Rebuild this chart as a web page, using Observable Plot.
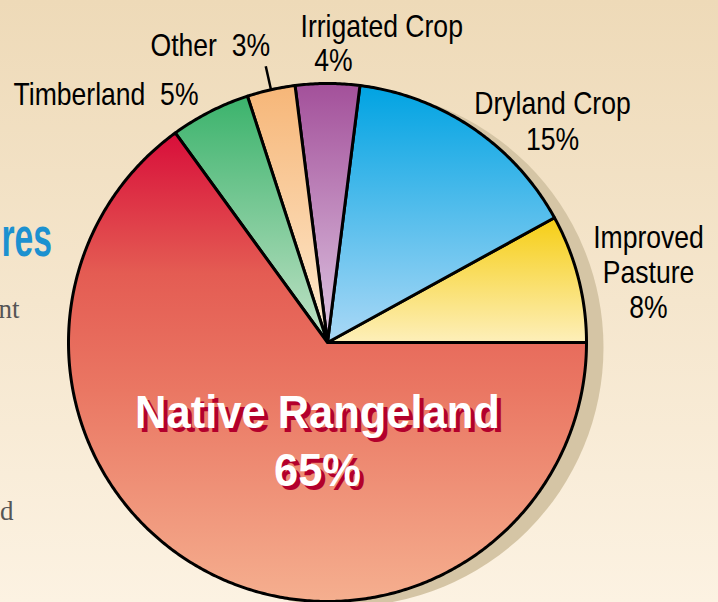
<!DOCTYPE html>
<html><head><meta charset="utf-8">
<script src="https://cdn.jsdelivr.net/npm/d3@7"></script>
<script src="https://cdn.jsdelivr.net/npm/@observablehq/plot@0.6"></script>
<style>
html,body{margin:0;padding:0;background:#fcf2e2;}
body{width:718px;height:602px;overflow:hidden;}
#chart svg{display:block;}
</style></head><body><div id="chart"></div>
<script>
// ---- data ----
const categories = ["Improved Pasture","Dryland Crop","Irrigated Crop","Other","Timberland","Native Rangeland"];
const percents   = [8, 15, 4, 3, 5, 65];
const labelLines = [["Improved","Pasture","8%"],["Dryland Crop","15%"],["Irrigated Crop","4%"],["Other\u00a0\u00a03%"],["Timberland\u00a0\u00a05%"],["Native Rangeland","65%"]];

// ---- style ----
const gradients = [
  [[0,"#f6ce14"],[1,"#fdefba"]],
  [[0,"#00a3e2"],[1,"#aad8f6"]],
  [[0,"#a3509a"],[1,"#dec6e2"]],
  [[0,"#f6b678"],[1,"#feebd0"]],
  [[0,"#3bb36c"],[1,"#c2e2c7"]],
  [[0,"#d80e3a"],[0.3,"#e45c53"],[0.55,"#ea7763"],[1,"#f5af8f"]]
];
const SANS = "'Liberation Sans',Arial,sans-serif";
const W=718, H=602, CX=327, CY=342, R=259;
const xDomain=[-CX/R,(W-CX)/R], yDomain=[-(H-CY)/R, CY/R];

const total = d3.sum(percents);
let cum = 0;
const slices = categories.map((c,i)=>{
  const a0 = cum/total*2*Math.PI; cum += percents[i];
  const a1 = cum/total*2*Math.PI;
  return {c,i,a0,a1,mid:(a0+a1)/2};
});
function slicePts(s){
  const n = Math.max(2, Math.ceil((s.a1-s.a0)/(Math.PI/360)));
  const pts=[{x:0,y:0}];
  for(let k=0;k<=n;k++){const t=s.a0+(s.a1-s.a0)*k/n; pts.push({x:Math.cos(t),y:Math.sin(t)});}
  return pts;
}
// squeeze factors applied after render (condensed face is not installed)
const squeeze = new Map();
function label(text,{x,y,anchor="middle",size=32,fill="black",weight="normal",family=SANS,sq=0.83}){
  squeeze.set(text+"|"+fill, sq);
  return Plot.text([text],{text:d=>d,frameAnchor:"top-left",dx:x,dy:y,textAnchor:anchor,lineAnchor:"bottom",
    fontSize:size,fontFamily:family,fontWeight:weight,fill});
}
const other = slices[3];
const leader = [{x1:Math.cos(other.mid), y1:Math.sin(other.mid), x2:Math.cos(other.mid)*(1+24/R), y2:Math.sin(other.mid)*(1+24/R)}];

const titleOpts = {size:46,weight:"bold",sq:0.945};
const marks = [
  Plot.dot([{x:0,y:0}],{x:"x",y:"y",r:R,dx:17,dy:5,fill:"#d5c5a5"}),
  ...slices.map(s=>Plot.line(slicePts(s),{x:"x",y:"y",curve:"linear-closed",fill:`url(#grad${s.i})`,
      stroke:"black",strokeWidth:3,strokeLinejoin:"round"})),
  Plot.link(leader,{x1:"x1",y1:"y1",x2:"x2",y2:"y2",stroke:"black",strokeWidth:2.5}),
  label(labelLines[0][0],{x:648,y:247}),
  label(labelLines[0][1],{x:648,y:282}),
  label(labelLines[0][2],{x:648,y:317}),
  label(labelLines[1][0],{x:552,y:113}),
  label(labelLines[1][1],{x:552,y:149}),
  label(labelLines[2][0],{x:300,y:36,anchor:"start"}),
  label(labelLines[2][1],{x:333,y:70}),
  label(labelLines[3][0],{x:150,y:55,anchor:"start"}),
  label(labelLines[4][0],{x:13,y:104,anchor:"start"}),
  label(labelLines[5][0],{x:321,y:431,fill:"#b3002c",...titleOpts}),
  label(labelLines[5][1],{x:321,y:489,fill:"#b3002c",...titleOpts}),
  label(labelLines[5][0],{x:317,y:427,fill:"white",...titleOpts}),
  label(labelLines[5][1],{x:317,y:485,fill:"white",...titleOpts}),
  // fragments of neighbouring page text
  label("res",{x:1,y:255,anchor:"start",size:56,weight:"bold",fill:"#1c91d0",sq:0.6}),
  label("nt",{x:19,y:317,anchor:"end",size:27,family:"'Liberation Serif',serif",fill:"#555",sq:1}),
  label("d",{x:13,y:519,anchor:"end",size:27,family:"'Liberation Serif',serif",fill:"#555",sq:1})
];

const svg = Plot.plot({width:W,height:H,margin:0,
  x:{domain:xDomain,axis:null},y:{domain:yDomain,axis:null},
  style:{background:"linear-gradient(#eedab8,#fcf2e2)",overflow:"hidden"},
  marks});

const defs = d3.select(svg).insert("defs",":first-child");
gradients.forEach((stops,i)=>{
  const g = defs.append("linearGradient").attr("id",`grad${i}`).attr("x1",0).attr("y1",0).attr("x2",0).attr("y2",1);
  stops.forEach(([o,c])=>g.append("stop").attr("offset",o).attr("stop-color",c));
});
document.getElementById("chart").append(svg);
svg.querySelectorAll("text").forEach(t=>{
  const fill = t.getAttribute("fill") || t.parentNode.getAttribute("fill");
  const key = t.textContent+"|"+fill;
  const f = squeeze.get(key);
  if (f && f !== 1) {
    const len = t.getComputedTextLength();
    t.setAttribute("textLength", (len*f).toFixed(1));
    t.setAttribute("lengthAdjust","spacingAndGlyphs");
  }
});
</script></body></html>
